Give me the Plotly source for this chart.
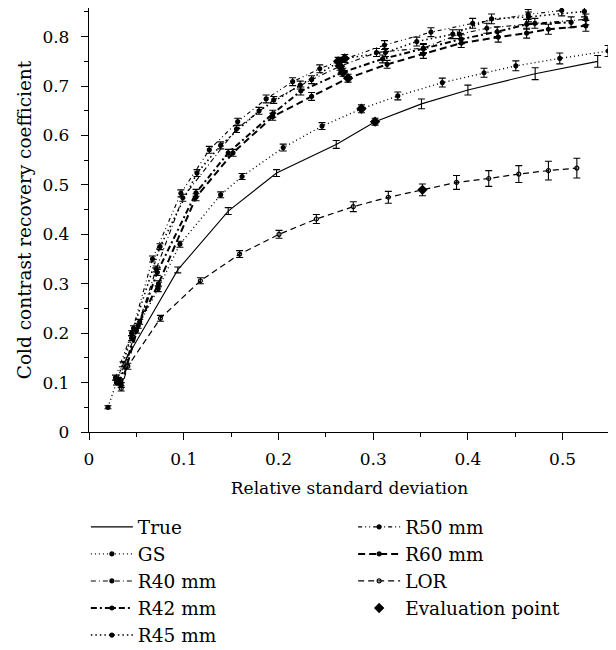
import plotly.graph_objects as go

# ---------------- data ----------------
true_x = [0.036, 0.0937, 0.147, 0.198, 0.261, 0.302, 0.351, 0.400, 0.471, 0.537]
true_y = [0.137, 0.328, 0.447, 0.524, 0.582, 0.628, 0.664, 0.692, 0.725, 0.750]
true_e = [0.005, 0.006, 0.007, 0.007, 0.008, 0.007, 0.010, 0.010, 0.012, 0.012]

gs_x = [0.020, 0.029, 0.045, 0.073, 0.096, 0.139, 0.1616, 0.205, 0.246, 0.2876, 0.326, 0.373, 0.417, 0.4506, 0.497, 0.548]
gs_y = [0.050, 0.100, 0.190, 0.290, 0.380, 0.480, 0.517, 0.5755, 0.619, 0.654, 0.680, 0.707, 0.727, 0.741, 0.756, 0.771]
gs_e = [0.003, 0.005, 0.005, 0.006, 0.006, 0.006, 0.006, 0.007, 0.007, 0.008, 0.008, 0.009, 0.009, 0.010, 0.011, 0.011]

r40_x = [0.031, 0.050, 0.071, 0.099, 0.1557, 0.195, 0.235, 0.265, 0.3035, 0.353, 0.391, 0.420, 0.4707, 0.5245]
r40_y = [0.102, 0.205, 0.330, 0.474, 0.613, 0.672, 0.713, 0.740, 0.768, 0.777, 0.805, 0.817, 0.827, 0.835]
r40_e = [0.005, 0.005, 0.006, 0.007, 0.007, 0.007, 0.008, 0.008, 0.008, 0.009, 0.009, 0.010, 0.010, 0.011]

r42_x = [0.032, 0.052, 0.072, 0.113, 0.147, 0.194, 0.2236, 0.268, 0.310, 0.353, 0.393, 0.431, 0.462, 0.509]
r42_y = [0.100, 0.215, 0.323, 0.484, 0.565, 0.644, 0.690, 0.728, 0.755, 0.775, 0.795, 0.810, 0.825, 0.829]
r42_e = [0.005, 0.005, 0.006, 0.007, 0.007, 0.007, 0.008, 0.008, 0.008, 0.009, 0.009, 0.010, 0.010, 0.011]

r45_x = [0.030, 0.047, 0.075, 0.114, 0.139, 0.1795, 0.223, 0.270, 0.313, 0.346, 0.384, 0.425, 0.464, 0.523]
r45_y = [0.105, 0.210, 0.375, 0.524, 0.580, 0.650, 0.702, 0.756, 0.768, 0.790, 0.805, 0.836, 0.840, 0.851]
r45_e = [0.005, 0.005, 0.006, 0.007, 0.007, 0.007, 0.008, 0.008, 0.008, 0.009, 0.009, 0.010, 0.010, 0.011]

r50_x = [0.028, 0.045, 0.067, 0.097, 0.127, 0.157, 0.187, 0.215, 0.2436, 0.263, 0.312, 0.361, 0.405, 0.4636, 0.499]
r50_y = [0.110, 0.200, 0.350, 0.483, 0.571, 0.628, 0.674, 0.709, 0.735, 0.750, 0.783, 0.809, 0.827, 0.845, 0.853]
r50_e = [0.005, 0.005, 0.006, 0.007, 0.007, 0.007, 0.008, 0.008, 0.008, 0.008, 0.009, 0.009, 0.010, 0.010, 0.011]

r60_x = [0.034, 0.0535, 0.0733, 0.113, 0.152, 0.194, 0.235, 0.2735, 0.3147, 0.353, 0.393, 0.432, 0.462, 0.485, 0.5245]
r60_y = [0.095, 0.223, 0.300, 0.475, 0.565, 0.638, 0.679, 0.716, 0.744, 0.765, 0.787, 0.799, 0.807, 0.815, 0.822]
r60_e = [0.005, 0.005, 0.006, 0.007, 0.007, 0.007, 0.008, 0.008, 0.008, 0.009, 0.009, 0.010, 0.010, 0.010, 0.011]

lor_x = [0.034, 0.041, 0.0754, 0.1176, 0.159, 0.2006, 0.240, 0.279, 0.316, 0.352, 0.388, 0.422, 0.4537, 0.485, 0.515]
lor_y = [0.088, 0.133, 0.230, 0.306, 0.360, 0.400, 0.431, 0.456, 0.475, 0.490, 0.505, 0.513, 0.522, 0.529, 0.534]
lor_e = [0.005, 0.006, 0.006, 0.006, 0.007, 0.008, 0.009, 0.010, 0.012, 0.012, 0.014, 0.016, 0.017, 0.019, 0.020]

eval_x = [0.302, 0.2876, 0.265, 0.268, 0.270, 0.263, 0.2735, 0.352]
eval_y = [0.628, 0.654, 0.740, 0.728, 0.756, 0.750, 0.716, 0.490]

x_ticks = [0, 0.1, 0.2, 0.3, 0.4, 0.5]
y_ticks = [0, 0.1, 0.2, 0.3, 0.4, 0.5, 0.6, 0.7, 0.8]

FONT = "DejaVu Serif"

fig = go.Figure()


def add(name, xs, ys, es, dash, width, symbol="circle", size=4, mode="lines+markers", legend="legend"):
    fig.add_trace(go.Scatter(
        x=xs, y=ys, name=name, mode=mode, legend=legend,
        line=dict(color="black", width=width, dash=dash),
        marker=dict(symbol=symbol, size=size, color="black",
                    line=dict(color="black", width=1.2)),
        error_y=dict(type="data", array=es, visible=True, color="black",
                     thickness=1.1, width=3.5),
        cliponaxis=False,
    ))


add("True", true_x, true_y, true_e, "solid", 1.1, mode="lines")
add("GS", gs_x, gs_y, gs_e, "1px,3px", 1.4)
add("R40 mm", r40_x, r40_y, r40_e, "5px,3px,1px,3px", 1.1)
add("R42 mm", r42_x, r42_y, r42_e, "6px,3px,2px,3px", 2.0)
add("R45 mm", r45_x, r45_y, r45_e, "1.5px,3px", 1.6)
add("R50 mm", r50_x, r50_y, r50_e, "4px,3px,1px,3px,1px,3px", 1.1, legend="legend2")
add("R60 mm", r60_x, r60_y, r60_e, "7px,4px", 2.0, legend="legend2")
add("LOR", lor_x, lor_y, lor_e, "6px,4px", 1.2, symbol="circle-open", legend="legend2")

fig.add_trace(go.Scatter(
    x=eval_x, y=eval_y, name="Evaluation point", mode="markers", legend="legend2",
    marker=dict(symbol="diamond", size=8, color="black"), cliponaxis=False,
))

axis_common = dict(
    showline=True, linecolor="black", linewidth=1.3, mirror=False,
    ticks="outside", ticklen=7, tickwidth=1.2, tickcolor="black",
    showgrid=False, zeroline=False, automargin=False,
    tickfont=dict(family=FONT, size=17, color="black"),
    minor=dict(ticks="outside", ticklen=4, tickwidth=1.1, tickcolor="black", dtick=0.05, showgrid=False),
)

# the page body adds 8 px around the figure, so the figure is 8 px smaller
fig.update_layout(
    width=608, height=642,
    margin=dict(l=81, r=6, t=0, b=218, autoexpand=False),
    paper_bgcolor="white", plot_bgcolor="white",
    font=dict(family=FONT, size=17, color="black"),
    xaxis=dict(range=[0, 0.55], tickvals=x_ticks, ticklabelstandoff=4,
               title=dict(text="Relative standard deviation", font=dict(family=FONT, size=17), standoff=14),
               **axis_common),
    yaxis=dict(range=[0, 0.858], tickvals=y_ticks, ticklabelstandoff=8,
               title=dict(text="Cold contrast recovery coefficient", font=dict(family=FONT, size=18.5), standoff=5),
               **axis_common),
    legend=dict(x=-0.006, y=-0.18, xanchor="left", yanchor="top", orientation="v",
                itemwidth=42, font=dict(family=FONT, size=18.5), bgcolor="rgba(0,0,0,0)",
                tracegroupgap=0),
    legend2=dict(x=0.507, y=-0.18, xanchor="left", yanchor="top", orientation="v",
                 itemwidth=42, font=dict(family=FONT, size=18.5), bgcolor="rgba(0,0,0,0)",
                 tracegroupgap=0),
    showlegend=True,
)

fig.write_html("out.html")
